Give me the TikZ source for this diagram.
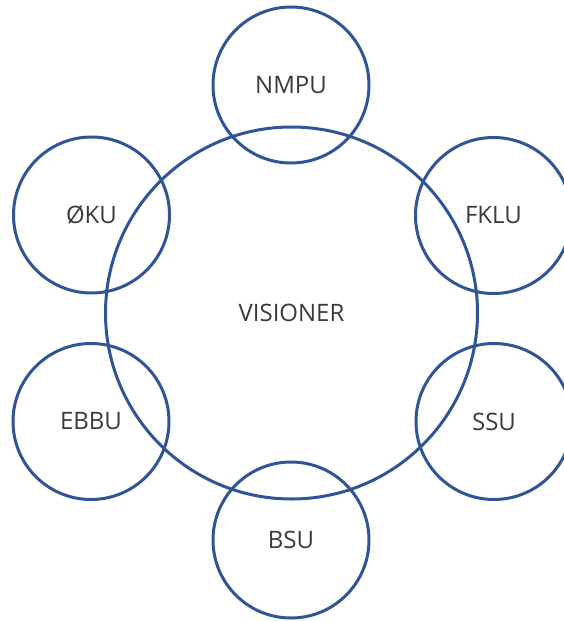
\documentclass[tikz,border=0pt]{standalone}
\usepackage{fontspec}
\setmainfont{Open Sans}
\usepackage{xcolor}
\definecolor{ringblue}{HTML}{2F5597}
\definecolor{labelgray}{HTML}{3A3A3A}
\tikzset{
  ring/.style={circle,draw=ringblue,line width=3pt,text=labelgray,font=\fontsize{24}{28}\selectfont,inner sep=0pt},
  unit/.style={ring,minimum size=156pt},
  vision/.style={ring,minimum size=372pt}
}

\begin{document}
\begin{tikzpicture}[x=1pt,y=-1pt]
\useasboundingbox (0,0) rectangle (563,621);
\node[vision] (visioner) at (291.5,313) {VISIONER};
\node[unit] (nmpu) at (291,85) {NMPU};
\node[unit] (fklu) at (493.5,215.5) {FKLU};
\node[unit] (ssu) at (494,421.5) {SSU};
\node[unit] (bsu) at (291,540) {BSU};
\node[unit] (ebbu) at (91,421.5) {EBBU};
\node[unit] (oku) at (91.5,215) {ØKU};
\end{tikzpicture}
\end{document}
